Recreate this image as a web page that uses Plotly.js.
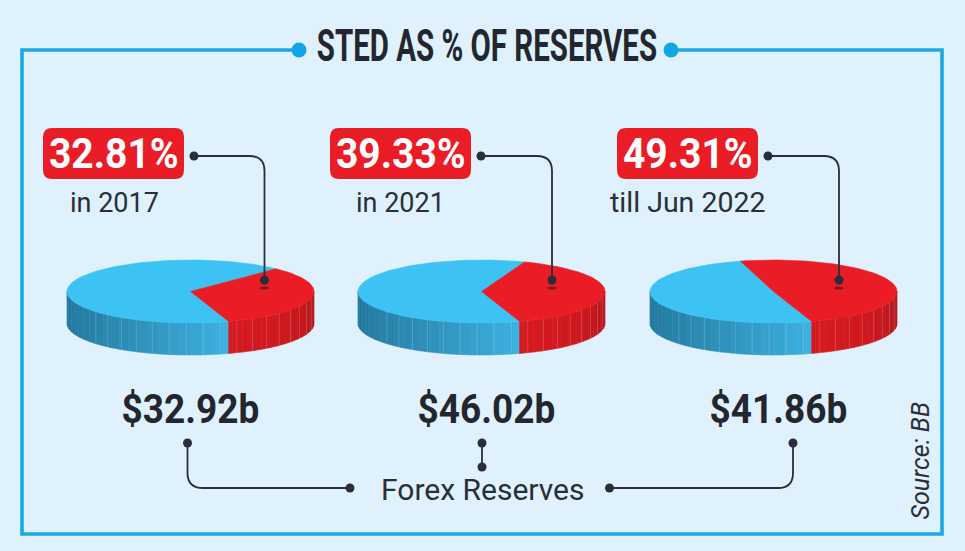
<!DOCTYPE html>
<html>
<head>
<meta charset="utf-8">
<script src="https://cdn.plot.ly/plotly-3.0.1.min.js"></script>
<style>html,body{margin:0;padding:0;background:#def1fc;overflow:hidden}#chart{width:965px;height:551px}</style>
</head>
<body>
<div id="chart"></div>
<script>
// Data
var titleText = 'STED AS % OF RESERVES';
var periods = ['in 2017', 'in 2021', 'till Jun 2022'];
var sharePct = [32.81, 39.33, 49.31];
var reservesBn = [32.92, 46.02, 41.86];
var reservesLabel = 'Forex Reserves';
var sourceText = 'Source: BB';

// Drawing constants
var INK = '#2a2e37', FRAME = '#19a8e4', RED = '#ea1c26', BLUE = '#3cc3f3';
var SANS = 'Roboto, sans-serif';
var centers = [190.5, 481.5, 773.5];
var RX = 123.5, RY = 31.5, CY = 291.5, DEPTH = 32, FRONT = -72;

function pt(cx, deg, dy) {
  var a = deg * Math.PI / 180;
  return [cx + RX * Math.cos(a), CY - RY * Math.sin(a) + (dy || 0)];
}
function wedge(cx, from, to) {
  var xs = [cx], ys = [CY];
  var n = Math.ceil(Math.abs(to - from) / 2);
  for (var i = 0; i <= n; i++) {
    var p = pt(cx, from + (to - from) * i / n);
    xs.push(p[0]); ys.push(p[1]);
  }
  xs.push(cx); ys.push(CY);
  return {x: xs, y: ys};
}
function mix(c1, c2, t) {
  return 'rgb(' + c1.map(function (v, i) { return Math.round(v + (c2[i] - v) * t); }).join(',') + ')';
}
var traces = [];
function poly(g, color) {
  traces.push({type: 'scatter', mode: 'lines', x: g.x, y: g.y, fill: 'toself', fillcolor: color,
    line: {color: color, width: 0.6}, hoverinfo: 'skip', showlegend: false});
}
centers.forEach(function (cx, k) {
  // side wall: front half of the ellipse, split at the point where the red slice begins
  var edges = [];
  for (var d = -180; d < 0; d += 5) edges.push(d);
  edges.push(0, FRONT);
  edges.sort(function (p, q) { return p - q; });
  for (var i = 0; i < edges.length - 1; i++) {
    var a = edges[i], b = edges[i + 1];
    if (a === b) continue;
    var col = a < FRONT
      ? mix([36, 120, 158], [62, 180, 228], Math.pow((a + 180) / 108, 1.6))
      : mix([212, 25, 32], [170, 18, 25], Math.pow((a - FRONT) / 72, 2));
    var p = [pt(cx, a), pt(cx, b), pt(cx, b, DEPTH), pt(cx, a, DEPTH)];
    poly({x: [p[0][0], p[1][0], p[2][0], p[3][0], p[0][0]], y: [p[0][1], p[1][1], p[2][1], p[3][1], p[0][1]]}, col);
  }
  // thin light stripes on the wall
  var sx = [], sy = [];
  for (var s = -140; s < -8; s += 8) {
    if (Math.abs(s - FRONT) < 3) continue;
    var t = pt(cx, s), u = pt(cx, s, DEPTH);
    sx.push(t[0], u[0], null); sy.push(t[1], u[1], null);
  }
  traces.push({type: 'scatter', mode: 'lines', x: sx, y: sy, connectgaps: false,
    line: {color: 'rgba(255,255,255,0.22)', width: 0.8}, hoverinfo: 'skip', showlegend: false});
  // top face: the slices come from the percentages
  var end = FRONT + sharePct[k] * 3.6;
  poly(wedge(cx, end, FRONT + 360), BLUE);
  poly(wedge(cx, FRONT, end), RED);
});

// Connector dots
var dotX = [], dotY = [];
var dropX = [264.5, 552, 839], badgeX = [43, 330, 617];
badgeX.forEach(function (bx, k) {
  dotX.push(bx + 151, dropX[k]); dotY.push(156, 280);
});
dotX.push(187.5, 350, 482, 482, 609.5, 793);
dotY.push(443, 488, 443, 467, 488, 443);
traces.push({type: 'scatter', mode: 'markers', x: dotX, y: dotY,
  marker: {color: INK, size: 9}, hoverinfo: 'skip', showlegend: false});

var shapes = [];
function path(d, color, width) {
  shapes.push({type: 'path', xref: 'x', yref: 'y', path: d, layer: 'below',
    line: {color: color, width: width}});
}
// Frame
path('M299,50 L22,50 L22,534 L942,534 L942,50 L671,50', FRAME, 3.6);
traces.push({type: 'scatter', mode: 'markers', x: [299, 671], y: [50, 50],
  marker: {color: '#10a5e6', size: 15}, hoverinfo: 'skip', showlegend: false});
// Badges, drop lines and small marks
badgeX.forEach(function (bx, k) {
  var x0 = bx, x1 = bx + 141, y0 = 128, y1 = 179, r = 9;
  shapes.push({type: 'path', xref: 'x', yref: 'y', layer: 'above', fillcolor: RED, line: {width: 0},
    path: 'M' + (x0 + r) + ',' + y0 + ' L' + (x1 - r) + ',' + y0 + ' Q' + x1 + ',' + y0 + ' ' + x1 + ',' + (y0 + r) +
      ' L' + x1 + ',' + (y1 - r) + ' Q' + x1 + ',' + y1 + ' ' + (x1 - r) + ',' + y1 + ' L' + (x0 + r) + ',' + y1 +
      ' Q' + x0 + ',' + y1 + ' ' + x0 + ',' + (y1 - r) + ' L' + x0 + ',' + (y0 + r) + ' Q' + x0 + ',' + y0 + ' ' + (x0 + r) + ',' + y0 + ' Z'});
  var dx = dropX[k];
  shapes.push({type: 'path', xref: 'x', yref: 'y', layer: 'above', line: {color: INK, width: 1.8},
    path: 'M' + (bx + 151) + ',156 L' + (dx - 15) + ',156 Q' + dx + ',156 ' + dx + ',171 L' + dx + ',280'});
  shapes.push({type: 'circle', xref: 'x', yref: 'y', layer: 'above', x0: dx - 4.5, x1: dx + 4.5, y0: 286.5, y1: 289.5,
    fillcolor: '#7a1a22', line: {width: 0}});
});
// Lower connectors
path('M187.5,443 L187.5,473 Q187.5,488 203,488 L350,488', INK, 1.8);
path('M482,443 L482,467', INK, 1.8);
path('M609.5,488 L778,488 Q793,488 793,473 L793,443', INK, 1.8);

var annotations = [], squeeze = [];
function label(text, x, y, size, color, sx, angle) {
  annotations.push({text: text, x: x, y: y, xref: 'x', yref: 'y', showarrow: false, xanchor: 'center', yanchor: 'middle',
    textangle: angle || 0, font: {family: SANS, size: size, color: color}});
  squeeze.push(sx || 1);
}
label('<b>' + titleText + '</b>', 486.5, 45, 45, '#23262e', 0.655);
sharePct.forEach(function (v, k) {
  label('<b>' + v.toFixed(2) + '%</b>', badgeX[k] + 70.5, 153.5, 42, '#ffffff', 0.93);
});
var periodX = [114.5, 400.5, 687.5], periodSize = [27, 27, 28.5];
periods.forEach(function (p, k) { label(p, periodX[k], 202.5, periodSize[k], INK); });
var valueX = [190.5, 486.5, 778];
reservesBn.forEach(function (v, k) { label('<b>$' + v.toFixed(2) + 'b</b>', valueX[k], 409, 40, '#23262e', 0.925); });
label(reservesLabel, 482, 489, 30, INK);
label('<i>' + sourceText + '</i>', 920, 460.5, 25, INK, 1, -90);

Plotly.newPlot('chart', traces, {
  width: 965, height: 551, margin: {l: 0, r: 0, t: 0, b: 0},
  paper_bgcolor: '#def1fc', plot_bgcolor: '#def1fc', showlegend: false,
  xaxis: {range: [0, 965], visible: false, fixedrange: true},
  yaxis: {range: [551, 0], visible: false, fixedrange: true},
  shapes: shapes, annotations: annotations
}, {displayModeBar: false, staticPlot: true}).then(function () {
  // The reference lettering is condensed: narrow the real text horizontally
  document.querySelectorAll('.annotation-text').forEach(function (el, i) {
    if (squeeze[i] === 1) return;
    var b = el.getBBox(), c = b.x + b.width / 2;
    el.setAttribute('transform', 'translate(' + c + ' 0) scale(' + squeeze[i] + ' 1) translate(' + (-c) + ' 0)');
  });
});
</script>
</body>
</html>
